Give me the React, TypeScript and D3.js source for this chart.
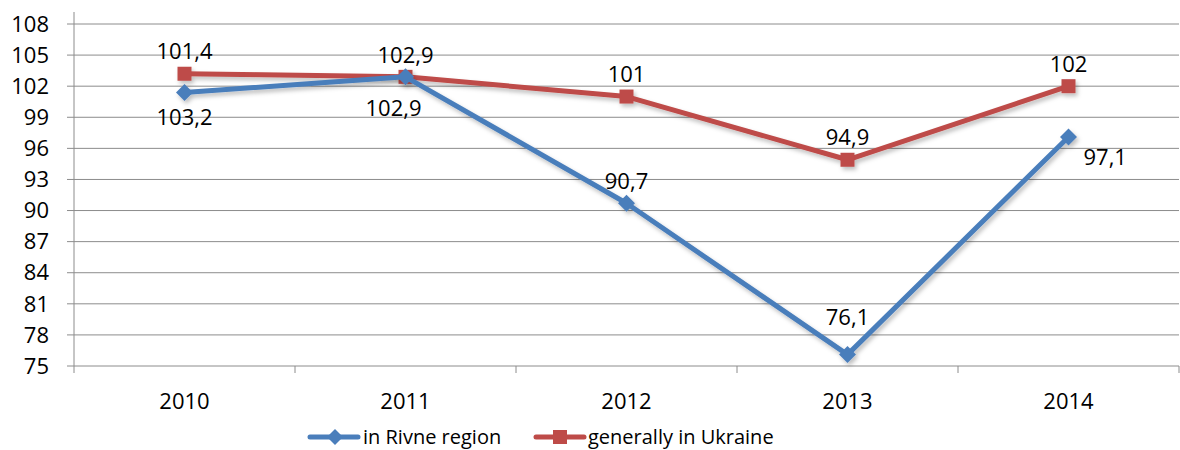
import React from 'react';
import * as d3 from 'd3';

// chart values
const years = ['2010', '2011', '2012', '2013', '2014'];
const rivneValues = [101.4, 102.9, 90.7, 76.1, 97.1];
const ukraineValues = [103.2, 102.9, 101, 94.9, 102];
// labels as they are printed on the chart
const rivneLabels = ['103,2', '102,9', '90,7', '76,1', '97,1'];
const ukraineLabels = ['101,4', '102,9', '101', '94,9', '102'];
const rivneLabelPos = ['below', 'belowLeft', 'above', 'aboveFar', 'right'];
const ukraineLabelPos = ['above', 'above', 'above', 'above', 'above'];
const yTicks = [75, 78, 81, 84, 87, 90, 93, 96, 99, 102, 105, 108];
const seriesNames = ['in Rivne region', 'generally in Ukraine'];

const BLUE = '#4A7EBB';
const RED = '#BE4B48';
const GRID = '#8c8c8c';
const FONT = "'Open Sans', sans-serif";
const NUM_SIZE = 22;

const W = 1180;
const H = 450;
const margin = { top: 24, right: 1, bottom: 84, left: 74 };

export default function App() {
  const plotW = W - margin.left - margin.right;

  const x = d3.scaleBand<string>().domain(years).range([margin.left, margin.left + plotW]);
  const y = d3.scaleLinear().domain([75, 108]).range([366, margin.top]);

  const cx = (d: string) => (x(d) as number) + x.bandwidth() / 2;

  const line = d3
    .line<number>()
    .x((d, i) => cx(years[i]))
    .y((d) => y(d));

  // label placement relative to its point
  const labelXY = (v: number, i: number, pos: string) => {
    const px = cx(years[i]);
    const py = y(v);
    if (pos === 'above') return { x: px, y: py - 22, anchor: 'middle' };
    if (pos === 'aboveFar') return { x: px, y: py - 37, anchor: 'middle' };
    if (pos === 'below') return { x: px, y: py + 25, anchor: 'middle' };
    if (pos === 'belowLeft') return { x: px - 12, y: py + 31, anchor: 'middle' };
    return { x: px + 15, y: py + 20, anchor: 'start' };
  };

  const diamond = (px: number, py: number, r: number) =>
    `M${px},${py - r} L${px + r},${py} L${px},${py + r} L${px - r},${py} Z`;

  return (
    <svg width={W} height={H} style={{ position: 'absolute', left: 0, top: 0, background: '#fff' }}>
      <defs>
        <filter id="shadow" x="-10%" y="-10%" width="120%" height="130%">
          <feDropShadow dx="2" dy="3" stdDeviation="2" floodColor="#000" floodOpacity="0.25" />
        </filter>
      </defs>

      {/* horizontal gridlines + y ticks */}
      {yTicks.map((t) => (
        <g key={'g' + t}>
          <line x1={margin.left - 7} x2={W - margin.right} y1={y(t)} y2={y(t)} stroke={GRID} strokeWidth={1} />
          <text x={49} y={y(t)} dy="0.35em" textAnchor="end" fontFamily={FONT} fontSize={NUM_SIZE} fill="#000">
            {t}
          </text>
        </g>
      ))}

      {/* y axis */}
      <line x1={margin.left} x2={margin.left} y1={y(108) - 12} y2={y(75) + 7} stroke={GRID} strokeWidth={1} />

      {/* x category ticks */}
      {years.map((d) => (
        <g key={'x' + d}>
          <line
            x1={(x(d) as number) + x.bandwidth()}
            x2={(x(d) as number) + x.bandwidth()}
            y1={y(75)}
            y2={y(75) + 7}
            stroke={GRID}
          />
          <text x={cx(d)} y={409} textAnchor="middle" fontFamily={FONT} fontSize={NUM_SIZE} fill="#000">
            {d}
          </text>
        </g>
      ))}

      {/* Ukraine series */}
      <g filter="url(#shadow)">
        <path d={line(ukraineValues) || ''} fill="none" stroke={RED} strokeWidth={5} strokeLinejoin="round" />
        {ukraineValues.map((v, i) => (
          <rect key={'u' + i} x={cx(years[i]) - 7} y={y(v) - 7} width={14} height={14} fill={RED} />
        ))}
      </g>

      {/* Rivne series */}
      <g filter="url(#shadow)">
        <path d={line(rivneValues) || ''} fill="none" stroke={BLUE} strokeWidth={5} strokeLinejoin="round" />
        {rivneValues.map((v, i) => (
          <path key={'r' + i} d={diamond(cx(years[i]), y(v), 8.5)} fill={BLUE} />
        ))}
      </g>

      {/* data labels */}
      {ukraineValues.map((v, i) => {
        const p = labelXY(v, i, ukraineLabelPos[i]);
        return (
          <text key={'ul' + i} x={p.x} y={p.y} dy="0.35em" textAnchor={p.anchor} fontFamily={FONT} fontSize={NUM_SIZE}>
            {ukraineLabels[i]}
          </text>
        );
      })}
      {rivneValues.map((v, i) => {
        const p = labelXY(v, i, rivneLabelPos[i]);
        return (
          <text key={'rl' + i} x={p.x} y={p.y} dy="0.35em" textAnchor={p.anchor} fontFamily={FONT} fontSize={NUM_SIZE}>
            {rivneLabels[i]}
          </text>
        );
      })}

      {/* legend */}
      <g>
        <line x1={310} x2={358} y1={437} y2={437} stroke={BLUE} strokeWidth={5} strokeLinecap="round" />
        <path d={diamond(335, 437, 8)} fill={BLUE} />
        <text x={363} y={437} dy="0.35em" fontFamily={FONT} fontSize={20}>
          {seriesNames[0]}
        </text>
        <line x1={536} x2={584} y1={437} y2={437} stroke={RED} strokeWidth={5} strokeLinecap="round" />
        <rect x={553} y={430} width={14} height={14} fill={RED} />
        <text x={588} y={437} dy="0.35em" fontFamily={FONT} fontSize={20}>
          {seriesNames[1]}
        </text>
      </g>
    </svg>
  );
}
